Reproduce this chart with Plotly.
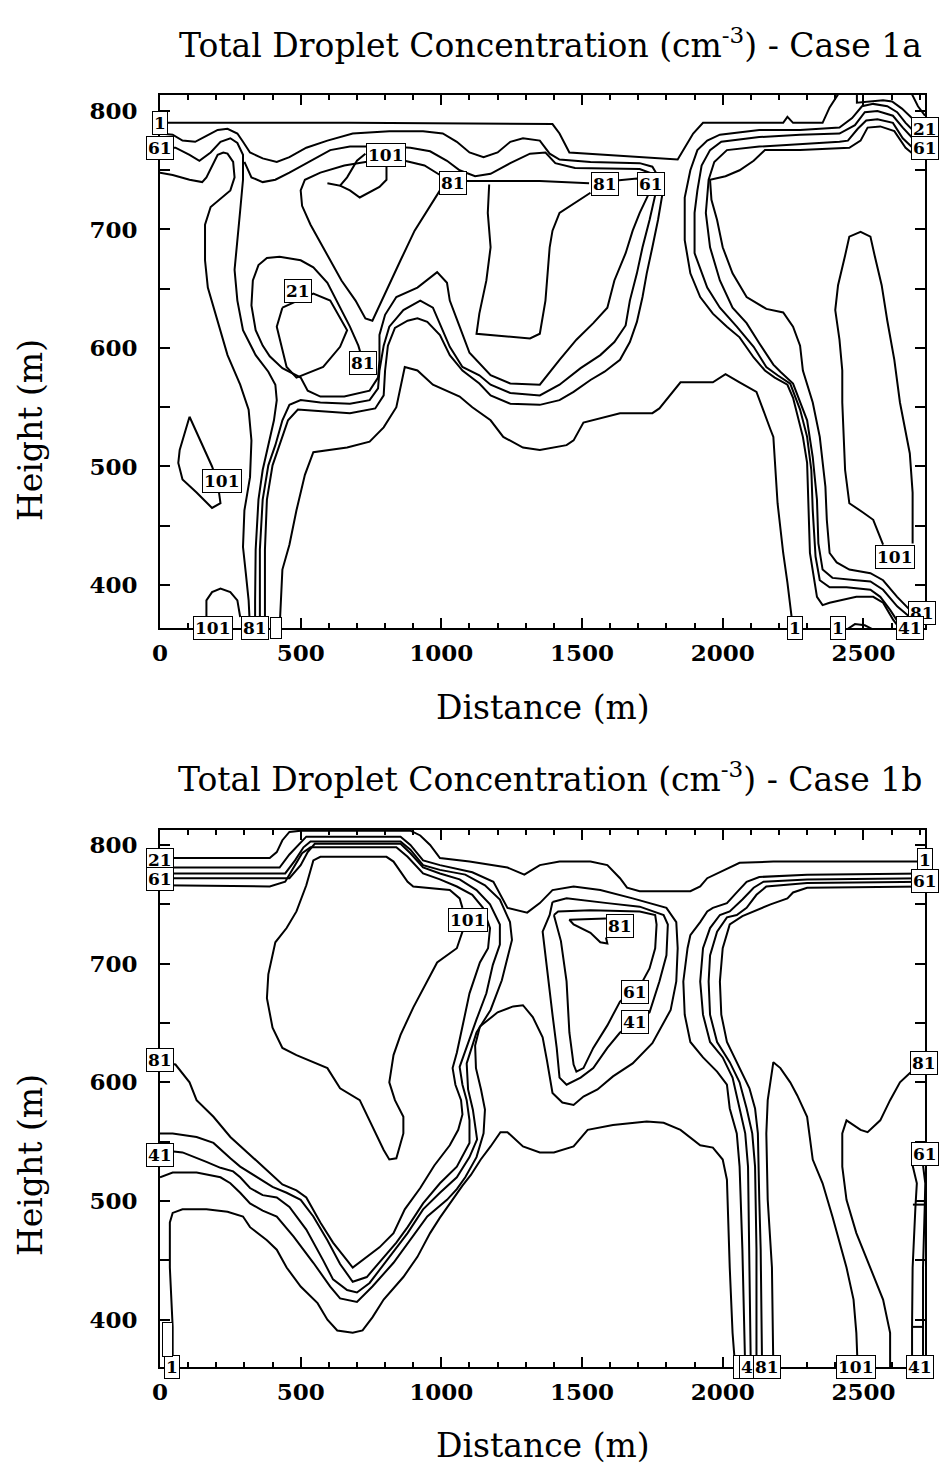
import plotly.graph_objects as go

# ============ Case 1a : contour lines (distance m, height m) ============
a_top = [(0,790),(675,790),(1395,789),(1420,781),(1455,765),(1635,762),(1840,759),(1895,781),(1930,790),(2215,790),(2230,795),(2250,790),(2355,790),(2380,803),(2410,814)]
a_corner1 = [(2477,814),(2477,807),(2570,809),(2602,808),(2637,802),(2673,794),(2719,787)]
a_corner2 = [(2673,814),(2694,804),(2719,796)]
a_61 = [(0,781),(45,780),(80,775),(125,774),(165,779),(205,784),(240,785),(275,781),(295,774),(320,765),(365,760),(415,757),(460,761),(520,769),(595,775),(685,781),(815,783),(935,783),(1005,781),(1055,774),(1100,765),(1150,761),(1200,765),(1245,774),(1290,777),(1350,775),(1385,764),(1420,759),(1530,757),(1705,756),(1750,753),(1775,743),(1785,729),(1770,708),(1750,685),(1730,663),(1715,643),(1695,622),(1670,605),(1635,590),(1580,580),(1530,573),(1470,563),(1420,556),(1350,552),(1245,553),(1175,560),(1135,570),(1075,581),(1030,594),(995,611),(950,622),(915,625),(880,623),(835,617),(810,602),(800,581),(795,560),(765,549),(675,545),(550,547),(490,548),(455,539),(425,518),(400,501),(380,472),(373,430),(373,387),(373,363)]
a_41 = [(300,757),(325,744),(365,740),(410,742),(460,748),(535,758),(605,767),(675,770),(815,770),(890,769),(960,766),(1020,758),(1065,750),(1120,745),(1175,747),(1245,756),(1315,764),(1370,765),(1405,756),(1475,752),(1705,751),(1750,747),(1760,729),(1740,708),(1715,685),(1695,663),(1670,640),(1655,619),(1615,605),(1565,594),(1495,583),(1420,569),(1350,560),(1245,562),(1175,569),(1135,577),(1075,584),(1030,601),(995,621),(970,634),(925,640),(865,632),(815,618),(795,602),(780,581),(775,566),(745,556),(675,553),(570,554),(500,556),(460,552),(435,539),(410,518),(385,501),(365,472),(355,430),(355,387),(355,363)]
a_21 = [(1605,741),(1695,743),(1735,737),(1735,729),(1705,714),(1680,699),(1655,680),(1615,657),(1590,634),(1540,621),(1480,607),(1420,590),(1350,569),(1245,570),(1175,577),(1135,587),(1100,596),(1065,618),(1030,640),(1020,655),(985,664),(915,651),(840,643),(800,628),(780,611),(780,590),(775,575),(745,564),(655,559),(570,559),(525,564),(500,575),(435,583),(390,593),(365,602),(340,615),(325,636),(330,657),(350,670),(380,676),(425,677),(500,674),(545,668),(595,655),(640,634),(675,618),(705,602),(720,590)]
a_left_b = [(0,769),(55,769),(105,763),(140,758),(180,765),(215,774),(250,777),(275,773),(295,763),(295,742),(285,716),(275,691),(265,666),(275,640),(295,615),(340,594),(385,580),(410,569),(415,556),(405,539),(385,518),(365,497),(350,472),(340,430),(338,387),(338,363)]
a_left_a = [(0,748),(45,746),(105,742),(150,740),(165,744),(185,754),(205,763),(225,765),(240,764),(260,757),(265,744),(250,733),(215,726),(180,719),(160,704),(160,674),(170,651),(205,623),(240,594),(285,569),(315,548),(325,522),(320,491),(300,463),(295,432),(305,410),(315,387),(320,363)]
a_101_head = [(595,739),(640,737),(665,744),(700,758),(730,764)]
a_101_tail = [(805,754),(805,742),(780,736),(710,727),(675,733),(640,737)]
a_81_loop = [(995,733),(960,720),(905,699),(855,674),(815,653),(780,636),(755,623),(730,625),(695,640),(645,657),(585,682),(535,704),(505,720),(500,733),(515,742),(570,748),(655,754),(730,757),(870,758),(940,754),(995,746)]
a_81_top = [(1090,741),(1175,741),(1350,741),(1525,739)]
a_81_box = [(1170,738),(1165,714),(1175,685),(1160,657),(1135,629),(1125,612),(1315,608),(1350,612),(1370,640),(1380,668),(1385,685),(1395,699),(1420,714),(1530,731)]
a_21_inner = [(435,634),(545,646),(605,640),(665,615),(640,601),(580,584),(485,575),(450,584),(415,618),(435,634)]
a_101_left = [(105,542),(70,514),(65,503),(80,489),(130,478),(185,465),(215,469),(205,486),(185,500),(155,516),(105,542)]
a_101_bottom = [(165,363),(165,387),(185,394),(215,397),(250,394),(275,387),(285,373)]
a_base = [(425,363),(435,413),(460,434),(485,463),(515,493),(545,512),(665,516),(745,521),(795,533),(840,550),(870,584),(915,581),(970,569),(1065,559),(1110,550),(1175,539),(1220,525),(1290,516),(1350,514),(1445,518),(1470,522),(1505,537),(1635,545),(1750,545),(1775,549),(1850,571),(1965,571),(2010,578),(2060,571),(2120,563),(2170,531),(2180,525),(2195,469),(2215,427),(2230,402),(2245,372),(2250,363)]
a_r1 = [(2720,782),(2675,784),(2650,790),(2620,799),(2585,804),(2535,806),(2495,804),(2460,794),(2415,786),(2275,784),(2130,784),(1990,780),(1945,775),(1910,767),(1885,750),(1865,727),(1865,691),(1885,663),(1920,643),(1965,629),(2015,618),(2060,609),(2110,592),(2150,581),(2185,575),(2230,569),(2250,558),(2285,525),(2300,503),(2305,469),(2310,427),(2335,390),(2355,383),(2380,385),(2415,387),(2475,390),(2535,390),(2570,385),(2605,371),(2630,363)]
a_r2 = [(2720,775),(2675,777),(2640,786),(2605,796),(2550,800),(2505,799),(2470,788),(2415,781),(2275,780),(2130,778),(1995,774),(1955,767),(1925,754),(1910,733),(1900,714),(1900,680),(1945,651),(1990,634),(2050,618),(2110,601),(2155,584),(2195,577),(2240,570),(2275,548),(2300,525),(2315,497),(2320,463),(2330,424),(2345,404),(2380,398),(2440,398),(2525,396),(2560,390),(2595,379),(2625,368)]
a_r3 = [(2720,769),(2675,769),(2640,777),(2605,790),(2550,793),(2510,792),(2480,785),(2445,775),(2415,774),(2275,772),(2130,770),(2015,767),(1970,757),(1950,742),(1940,714),(1955,685),(1990,657),(2035,634),(2085,621),(2130,604),(2180,586),(2205,580),(2250,570),(2300,539),(2320,508),(2335,472),(2340,435),(2355,413),(2390,406),(2475,404),(2525,403),(2570,396),(2620,382),(2665,373)]
a_r4 = [(2720,762),(2685,762),(2650,769),(2610,783),(2560,787),(2515,786),(2490,775),(2450,769),(2275,767),(2150,767),(2110,758),(2060,750),(2010,745),(1955,742),(1960,725),(1980,708),(2000,685),(2035,663),(2085,643),(2155,633),(2215,630),(2250,618),(2275,602),(2285,581),(2320,554),(2345,525),(2365,483),(2370,455),(2380,427),(2405,419),(2450,413),(2525,410),(2570,404),(2620,390),(2665,379)]
a_r101 = [(2570,434),(2535,455),(2500,461),(2450,469),(2435,497),(2425,554),(2425,581),(2415,607),(2400,632),(2410,653),(2435,678),(2450,694),(2490,698),(2525,694),(2540,678),(2565,653),(2585,623),(2610,590),(2630,554),(2665,511),(2675,478),(2675,435)]
a_blip = [(2445,363),(2470,367),(2505,366),(2530,363)]

case1a_lines = [a_top, a_corner1, a_corner2, a_61, a_41, a_21, a_left_b, a_left_a,
                a_101_head, a_101_tail, a_81_loop, a_81_top, a_81_box, a_21_inner,
                a_101_left, a_101_bottom, a_base, a_r1, a_r2, a_r3, a_r4, a_r101, a_blip]

case1a_labels = [(0,790,"1"),(0,769,"61"),(805,763,"101"),(1040,739,"81"),(1580,738,"81"),
                 (1745,738,"61"),(490,648,"21"),(720,587,"81"),(220,488,"101"),
                 (2718,785,"21"),(2718,769,"61"),(2612,424,"101"),(2710,376,"81"),
                 (2666,363.8,"41"),(2257,363.8,"1"),(2410,363.8,"1"),(188,363.8,"101"),(338,363.8,"81")]
case1a_blank = [(412,363.8,6,16)]

# ============ Case 1b : contour lines ============
b_top = [(0,789),(390,789),(415,794),(435,804),(460,811),(500,812),(890,812),(925,808),(960,800),(995,789),(1100,786),(1235,781),(1295,775),(1350,783),(1420,786),(1530,786),(1590,783),(1635,772),(1660,764),(1705,761),(1885,761),(1920,765),(1945,772),(1990,777),(2060,785),(2180,786),(2720,786)]
b_A = [(0,781),(425,781),(460,792),(500,802),(520,807),(855,807),(890,800),(935,787),(995,783),(1110,777),(1185,769),(1235,747),(1305,743),(1350,751),(1395,762),(1470,765),(1565,762),(1680,755),(1800,747),(1835,735),(1840,713),(1835,685),(1815,661),(1750,633),(1680,616),(1610,605),(1555,594),(1505,588),(1470,581),(1430,583),(1395,591),(1375,619),(1360,638),(1325,655),(1290,665),(1255,664),(1200,659),(1137,647),(1120,631),(1123,612),(1141,594),(1155,577),(1150,557),(1125,537),(1085,520),(1055,510),(1020,501),(950,487),(890,467),(830,448),(755,428),(700,415),(640,418),(605,428),(545,448),(475,470),(415,487),(365,492),(320,498),(285,507),(250,515),(215,520),(130,524),(45,524),(0,520)]
b_B = [(0,776),(445,776),(480,787),(510,798),(535,803),(855,803),(890,796),(935,783),(995,779),(1085,775),(1155,766),(1208,754),(1244,735),(1251,720),(1233,703),(1215,686),(1175,661),(1125,642),(1090,616),(1095,594),(1112,577),(1127,552),(1100,537),(1055,520),(995,507),(935,493),(880,473),(805,450),(745,431),(700,423),(665,425),(615,434),(580,450),(520,476),(460,495),(415,503),(365,505),(320,511),(285,520),(260,525),(215,528),(165,533),(80,541),(0,543)]
b_C = [(0,772),(460,772),(500,783),(525,794),(550,801),(855,801),(890,793),(935,781),(995,776),(1065,771),(1125,762),(1173,750),(1208,733),(1208,716),(1183,699),(1160,675),(1125,653),(1095,633),(1065,613),(1075,598),(1090,585),(1100,568),(1100,549),(1055,529),(995,515),(935,498),(880,478),(840,465),(780,448),(735,436),(685,432),(640,447),(595,467),(545,487),(500,501),(450,507),(400,512),(345,520),(285,529),(250,536),(190,549),(130,554),(45,557),(0,557)]
b_D = [(0,766),(390,765),(445,769),(475,781),(505,793),(535,798),(840,798),(880,790),(935,776),(995,771),(1055,765),(1110,758),(1148,747),(1173,730),(1166,713),(1137,701),(1100,675),(1075,647),(1055,625),(1040,612),(1050,598),(1070,585),(1075,573),(1060,560),(1030,547),(975,530),(925,511),(870,493),(830,473),(780,461),(735,453),(685,444),(665,450),(615,465),(570,482),(520,503),(485,509),(435,514),(380,526),(310,541),(250,554),(190,571),(130,585),(105,600),(55,615),(0,617)]
b_101 = [(1075,727),(1055,713),(985,701),(950,685),(900,663),(855,640),(830,623),(815,600),(835,585),(865,571),(865,557),(840,536),(815,535),(795,543),(755,563),(710,585),(640,595),(595,612),(485,623),(435,629),(400,646),(380,671),(385,691),(410,718),(450,730),(485,744),(520,766),(545,787),(570,790),(805,790),(830,786),(880,769),(900,765),(1030,762),(1065,755),(1075,747)]
b_pk2 = [(1395,752),(1445,755),(1590,751),(1705,748),(1790,741),(1805,733),(1800,707),(1775,685),(1740,659),(1635,642),(1590,629),(1540,612),(1495,604),(1445,598),(1420,604),(1410,629),(1395,657),(1375,699),(1360,727),(1385,741),(1395,752)]
b_pk3 = [(1400,741),(1415,744),(1530,745),(1705,744),(1760,741),(1765,733),(1760,713),(1740,696),(1715,685),(1635,668),(1590,648),(1540,629),(1505,612),(1480,609),(1470,615),(1455,642),(1445,685),(1425,719),(1400,741)]
b_pk4 = [(1585,738),(1455,737),(1470,733),(1530,726),(1565,718),(1590,717),(1585,722)]
b_base = [(45,358),(45,369),(45,394),(35,444),(35,482),(45,490),(80,493),(165,493),(240,491),(295,487),(320,478),(380,467),(415,459),(450,444),(500,428),(560,414),(595,400),(630,391),(685,389),(720,391),(755,402),(795,417),(865,436),(915,453),(960,473),(995,486),(1045,503),(1075,513),(1105,522),(1140,535),(1175,546),(1210,558),(1235,558),(1290,546),(1350,541),(1400,541),(1470,546),(1520,560),(1610,564),(1730,567),(1790,566),(1850,560),(1920,547),(1965,545),(2000,535),(2015,518),(2025,444),(2035,389),(2045,358)]
b_rb1 = [(2720,776),(2300,775),(2130,773),(2085,769),(2050,760),(2015,751),(1965,747),(1945,744),(1920,735),(1885,724),(1875,713),(1860,685),(1865,657),(1885,634),(1930,621),(1980,609),(2015,598),(2025,578),(2050,557),(2060,529),(2070,459),(2080,358)]
b_rb2 = [(2720,772),(2300,771),(2145,769),(2110,764),(2070,754),(2025,744),(1990,741),(1955,730),(1930,713),(1920,685),(1930,657),(1955,634),(2000,621),(2035,604),(2060,578),(2080,557),(2090,529),(2095,459),(2100,358)]
b_rb3 = [(2720,769),(2300,768),(2155,765),(2120,758),(2085,747),(2050,741),(2015,739),(1980,727),(1955,707),(1950,685),(1955,657),(1980,634),(2025,617),(2060,600),(2085,578),(2105,557),(2115,529),(2120,459),(2120,358)]
b_rb4 = [(2720,765),(2300,764),(2250,760),(2230,755),(2170,750),(2110,744),(2070,740),(2025,733),(2000,713),(1990,685),(1995,657),(2015,634),(2060,612),(2095,595),(2115,578),(2125,557),(2130,501),(2135,459),(2140,358)]
b_spike = [(2180,358),(2175,444),(2160,501),(2155,557),(2160,585),(2170,600),(2180,617),(2205,612),(2240,600),(2265,589),(2285,578),(2300,571),(2320,535),(2355,515),(2390,487),(2415,465),(2440,444),(2465,417),(2475,389),(2480,358)]
b_r81 = [(2675,610),(2630,600),(2595,585),(2560,568),(2515,558),(2490,560),(2440,568),(2425,557),(2425,529),(2440,501),(2475,473),(2525,444),(2570,417),(2595,389),(2595,358)]
b_edge1 = [(2675,530),(2690,515),(2685,495),(2675,444),(2673,394),(2673,358)]
b_edge2 = [(2712,530),(2720,515),(2718,495),(2712,444),(2712,358)]
b_tick1 = [(2676,497),(2716,497)]
b_tick2 = [(2673,394),(2712,394)]

case1b_lines = [b_top, b_A, b_B, b_C, b_D, b_101, b_pk2, b_pk3, b_pk4, b_base,
                b_rb1, b_rb2, b_rb3, b_rb4, b_spike, b_r81, b_edge1, b_edge2, b_tick1, b_tick2]

case1b_labels = [(0,787,"21"),(0,771,"61"),(1095,737,"101"),(0,619,"81"),(0,539,"41"),
                 (44,360.3,"1"),(2718,787,"1"),(2718,770,"61"),(1635,732,"81"),
                 (1690,676,"61"),(1690,651,"41"),(2715,616,"81"),(2718,540,"61"),
                 (2109,360.3,"41"),(2156,360.3,"81"),(2474,360.3,"101"),(2701,360.3,"41")]
case1b_blank = [(27,383,5,29),(2049,360.3,1,18)]

x_ticks = [0, 500, 1000, 1500, 2000, 2500]
y_ticks = [400, 500, 600, 700, 800]

# ======================= figure =======================
W, H = 941, 1470
fig = go.Figure()

def add_lines(curves, xa, ya):
    for c in curves:
        fig.add_trace(go.Scatter(x=[p[0] for p in c], y=[p[1] for p in c], mode="lines",
                                 line=dict(color="black", width=2), xaxis=xa, yaxis=ya,
                                 showlegend=False, hoverinfo="skip"))

add_lines(case1a_lines, "x", "y")
add_lines(case1b_lines, "x2", "y2")

serif = "DejaVu Serif"
common = dict(showline=True, linecolor="black", linewidth=2, mirror="ticks", showgrid=False,
              zeroline=False, ticks="inside", tickcolor="black", tickwidth=1.5, automargin=False,
              tickfont=dict(family=serif, size=23, color="black", weight="bold"))
xstyle = dict(common, tickvals=x_ticks, ticklen=10, ticklabelstandoff=3,
              minor=dict(dtick=100, tick0=0, ticks="inside", ticklen=5, tickcolor="black", tickwidth=1.5))
ystyle = dict(common, tickvals=y_ticks, ticklen=10, ticklabelstandoff=16,
              minor=dict(dtick=50, tick0=0, ticks="inside", ticklen=10, tickcolor="black", tickwidth=1.5))

L, R = 160 / W, 925 / W
fig.update_layout(
    template="none",
    width=W, height=H, margin=dict(l=0, r=0, t=0, b=0, autoexpand=False),
    paper_bgcolor="white", plot_bgcolor="white", showlegend=False,
    xaxis=dict(xstyle, domain=[L, R], range=[0, 2719], anchor="y"),
    yaxis=dict(ystyle, domain=[1 - 628 / H, 1 - 95 / H], range=[363.7, 813.5], anchor="x"),
    xaxis2=dict(xstyle, domain=[L, R], range=[0, 2719], anchor="y2"),
    yaxis2=dict(ystyle, domain=[1 - 1367 / H, 1 - 830 / H], range=[360.2, 812.6], anchor="x2"),
)

ann = []
lab_font = dict(family=serif, size=17, color="black")
for labels, blanks, xr, yr in [(case1a_labels, case1a_blank, "x", "y"),
                               (case1b_labels, case1b_blank, "x2", "y2")]:
    for (x, y, t) in labels:
        ann.append(dict(x=x, y=y, xref=xr, yref=yr, text="<b>%s</b>" % t, showarrow=False,
                        font=lab_font, bgcolor="white", bordercolor="black", borderwidth=1,
                        borderpad=1, height=20, xanchor="center", yanchor="middle"))
    for (x, y, w, h) in blanks:
        ann.append(dict(x=x, y=y, xref=xr, yref=yr, text="\u00a0", showarrow=False,
                        font=lab_font, bgcolor="white", bordercolor="black", borderwidth=1,
                        borderpad=2, width=w, height=h, xanchor="center", yanchor="middle"))

title_font = dict(family=serif, size=33, color="black")
for yc, case in [(43, "1a"), (777, "1b")]:
    ann.append(dict(x=550 / W, y=1 - yc / H, xref="paper", yref="paper", showarrow=False,
                    text="Total Droplet Concentration (cm<sup>-3</sup>) - Case " + case,
                    font=title_font, xanchor="center", yanchor="middle"))
for yc in [707, 1445]:
    ann.append(dict(x=543 / W, y=1 - yc / H, xref="paper", yref="paper", showarrow=False,
                    text="Distance (m)", font=title_font, xanchor="center", yanchor="middle"))
for yc in [430, 1165]:
    ann.append(dict(x=30 / W, y=1 - yc / H, xref="paper", yref="paper", showarrow=False,
                    text="Height (m)", font=title_font, textangle=-90,
                    xanchor="center", yanchor="middle"))

fig.update_layout(annotations=ann)
fig.write_html("out.html")
